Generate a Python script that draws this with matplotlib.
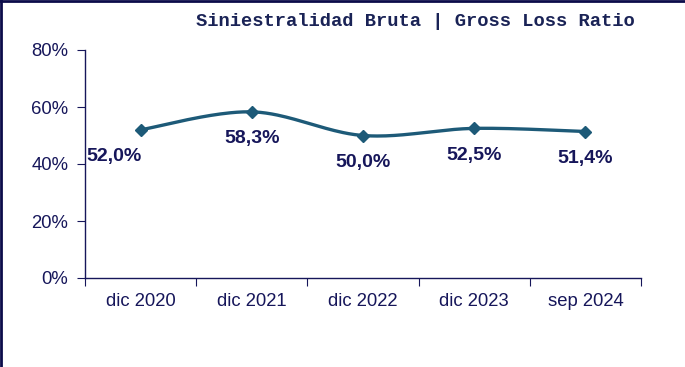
"""Gross loss ratio line chart (Siniestralidad Bruta)."""
import matplotlib
matplotlib.use("Agg")
import matplotlib.pyplot as plt
import numpy as np
from matplotlib.lines import Line2D
from matplotlib.ticker import FixedLocator, NullFormatter, PercentFormatter

periods = ["dic 2020", "dic 2021", "dic 2022", "dic 2023", "sep 2024"]
loss_ratio = [52.0, 58.3, 50.0, 52.5, 51.4]
value_labels = ["52,0%", "58,3%", "50,0%", "52,5%", "51,4%"]
label_shift_x = [-27, 0, 0, 0, 0]

NAVY = "#16165a"
LINE = "#1d5a78"


def smooth(xs, ys, steps=40):
    """Catmull-Rom style bezier through the points (like Excel smoothed lines)."""
    xs = np.asarray(xs, float)
    ys = np.asarray(ys, float)
    px = np.concatenate([[xs[0]], xs, [xs[-1]]])
    py = np.concatenate([[ys[0]], ys, [ys[-1]]])
    out_x, out_y = [], []
    t = np.linspace(0, 1, steps)
    for i in range(1, len(px) - 2):
        p0 = np.array([px[i], py[i]])
        p3 = np.array([px[i + 1], py[i + 1]])
        p1 = p0 + (np.array([px[i + 1], py[i + 1]]) - np.array([px[i - 1], py[i - 1]])) / 6
        p2 = p3 - (np.array([px[i + 2], py[i + 2]]) - np.array([px[i], py[i]])) / 6
        b = ((1 - t) ** 3)[:, None] * p0 + (3 * (1 - t) ** 2 * t)[:, None] * p1 \
            + (3 * (1 - t) * t ** 2)[:, None] * p2 + (t ** 3)[:, None] * p3
        out_x.extend(b[:, 0])
        out_y.extend(b[:, 1])
    return out_x, out_y


fig = plt.figure(figsize=(6.85, 3.67), dpi=100)
ax = fig.add_axes([85 / 685, 1 - 278 / 367, 556 / 685, 228 / 367])

x = np.arange(len(periods))
sx, sy = smooth(x, loss_ratio)
ax.plot(sx, sy, color=LINE, linewidth=2.4, zorder=2)
ax.plot(x, loss_ratio, linestyle="none", marker="D", markersize=6,
        color=LINE, zorder=3)

for xi, yi, lab, dx in zip(x, loss_ratio, value_labels, label_shift_x):
    ax.annotate(lab, (xi, yi), xytext=(dx, -27), textcoords="offset pixels",
                ha="center", va="center", fontsize=14, fontweight="bold",
                color=NAVY, family="Liberation Sans")

ax.set_xlim(-0.5, len(periods) - 0.5)
ax.set_ylim(0, 80)
ax.set_yticks([0, 20, 40, 60, 80])
ax.yaxis.set_major_formatter(PercentFormatter(decimals=0))

ax.xaxis.set_major_locator(FixedLocator(np.arange(-0.5, len(periods), 1.0)))
ax.xaxis.set_major_formatter(NullFormatter())
ax.xaxis.set_minor_locator(FixedLocator(x))
ax.set_xticklabels(periods, minor=True)
ax.tick_params(axis="x", which="minor", length=0, pad=11)
ax.tick_params(axis="x", which="major", length=6, direction="out", color=NAVY)
ax.tick_params(axis="y", length=6, direction="out", color=NAVY, pad=6)

for lab in ax.get_yticklabels() + ax.get_xticklabels(minor=True):
    lab.set_fontsize(13.3)
    lab.set_color(NAVY)
    lab.set_family("Liberation Sans")

for side in ["top", "right"]:
    ax.spines[side].set_visible(False)
for side in ["left", "bottom"]:
    ax.spines[side].set_color(NAVY)
    ax.spines[side].set_linewidth(1.0)

fig.text(635 / 685, 1 - 22 / 367, "Siniestralidad Bruta | Gross Loss Ratio",
         ha="right", va="center", fontsize=13.5, fontweight="bold",
         color="#1a2356", family="Liberation Mono")

# frame lines on the left and top edges of the picture
fig.add_artist(Line2D([0.002, 0.002], [0, 1], transform=fig.transFigure,
                      color="#0c0c4a", linewidth=2))
fig.add_artist(Line2D([0, 1], [0.997, 0.997], transform=fig.transFigure,
                      color="#0c0c4a", linewidth=2))

fig.savefig("out.png", dpi=100)
